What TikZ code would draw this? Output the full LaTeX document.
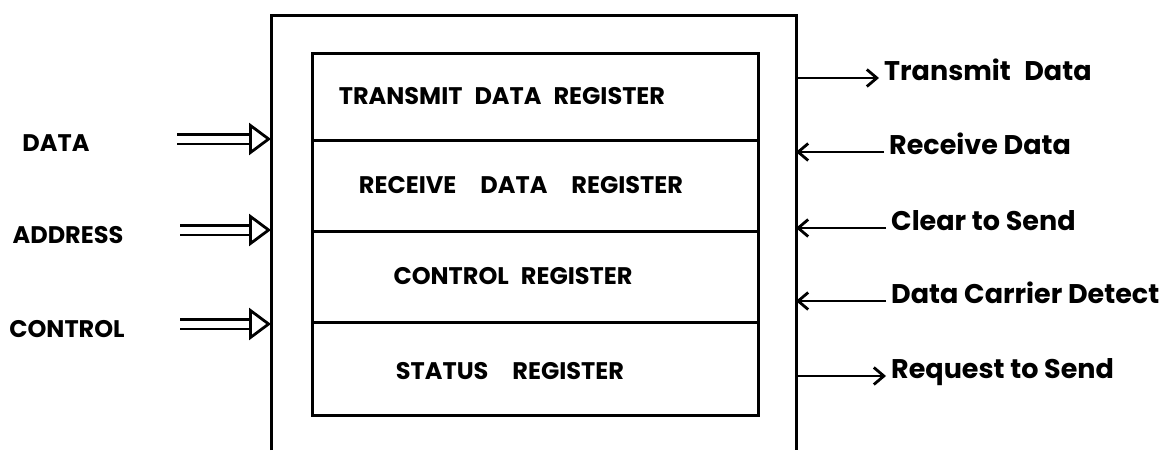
\documentclass[tikz,border=0pt]{standalone}
\usepackage{fontspec}
\setmainfont{Poppins}
\usetikzlibrary{
    arrows.meta,
    positioning
}

\tikzset{
    box line/.style={line width=3pt},
    regbox/.style={draw, box line, outer sep=0pt, inner sep=0pt,
                   minimum width=446pt},
    reglabel/.style={font=\fontsize{24}{24}\selectfont\bfseries},
    pinlabel/.style={font=\fontsize{24}{24}\selectfont\bfseries},
    siglabel/.style={font=\fontsize{27}{27}\selectfont\bfseries, anchor=west,
                     inner xsep=5pt, text height=0.7em, text depth=0.2em},
    bus/.style={line width=2.8pt, double, double distance=7pt,
                -{Triangle[open, length=22pt, width=32pt, line width=2.8pt]}},
    sig/.style={line width=2.8pt,
                -{Straight Barb[length=10pt, width=17pt, line width=2.8pt]}}
}

\begin{document}
\begin{tikzpicture}[x=1pt,y=-1pt]

\useasboundingbox (0,0) rectangle (1173,450);

% chip outline (open at the bottom)
\node[minimum width=525pt, minimum height=435pt, outer sep=0pt,
      anchor=north west] (chip) at (271,15) {};
\draw[box line]
(chip.south west)--(chip.north west)--(chip.north east)--(chip.south east);

% registers
\node[regbox, minimum height=87pt, anchor=north west,
      label={[reglabel, xshift=-33pt]center:TRANSMIT\enspace DATA\enspace REGISTER}]
      (txreg) at (312,53) {};
\node[regbox, minimum height=91pt, below=0pt of txreg,
      label={[reglabel, xshift=-14pt]center:RECEIVE\quad DATA\quad REGISTER}]
      (rxreg) {};
\node[regbox, minimum height=91pt, below=0pt of rxreg,
      label={[reglabel, xshift=-22pt]center:CONTROL\enspace REGISTER}]
      (ctlreg) {};
\node[regbox, minimum height=93pt, below=0pt of ctlreg,
      label={[reglabel, xshift=-25pt, yshift=-3pt]center:STATUS\quad REGISTER}]
      (streg) {};

% CPU side
\node[pinlabel] (data) at (56,143) {DATA};
\node[pinlabel] (addr) at (68,235) {ADDRESS};
\node[pinlabel] (ctl) at (67,329) {CONTROL};

\coordinate (datain) at (177,139);
\coordinate (addrin) at (180,230);
\coordinate (ctlin) at (180,324);

\foreach \p in {datain,addrin,ctlin}{
    \draw[bus] (\p) -- (\p -| chip.west);
}

% serial side
\node[siglabel] (txd) at (879,78) {Transmit\enspace Data};
\node[siglabel] (rxd) at (884,152) {Receive Data};
\node[siglabel] (cts) at (886,228) {Clear to Send};
\node[siglabel] (dcd) at (886,301) {Data Carrier Detect};
\node[siglabel] (rts) at (886,376) {Request to Send};

\draw[sig] (chip.east |- txd.west) -- (txd.west);
\draw[sig] (rxd.west) -- (chip.east |- rxd.west);
\draw[sig] (cts.west) -- (chip.east |- cts.west);
\draw[sig] (dcd.west) -- (chip.east |- dcd.west);
\draw[sig] (chip.east |- rts.west) -- (rts.west);

\end{tikzpicture}
\end{document}
